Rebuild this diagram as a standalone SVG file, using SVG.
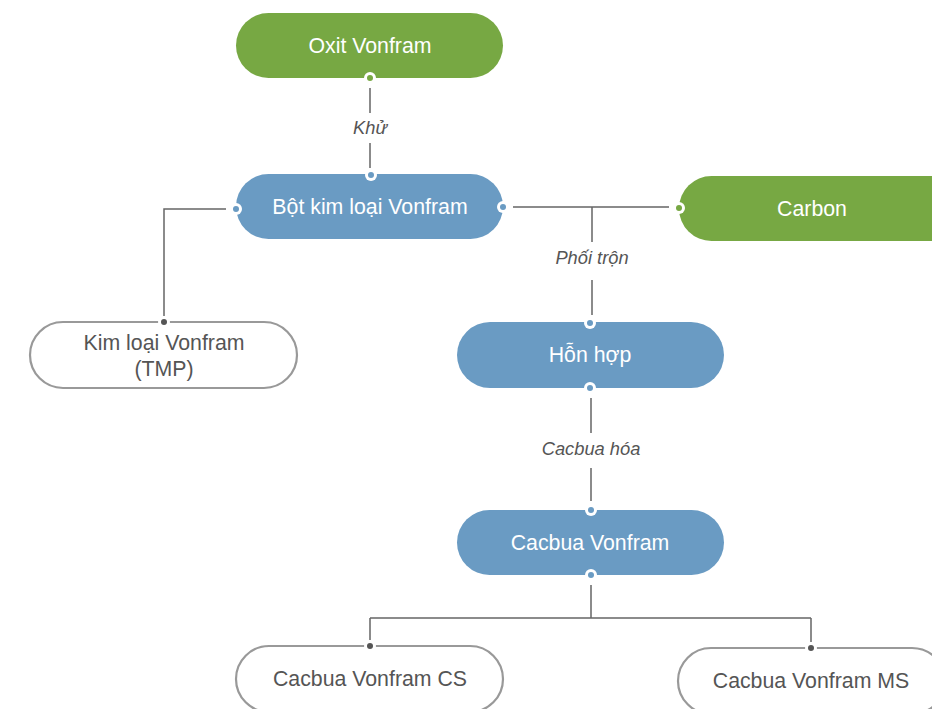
<svg xmlns="http://www.w3.org/2000/svg" width="932" height="709" viewBox="0 0 932 709">
<style>
.g{fill:#77a843}
.b{fill:#6a9bc3}
.w{fill:#fff;stroke:#999;stroke-width:2.2}
.t{font-family:"Liberation Sans",Arial,sans-serif;font-size:21.3px;text-anchor:middle;fill:#fff}
.td{font-family:"Liberation Sans",Arial,sans-serif;font-size:21.3px;text-anchor:middle;fill:#555}
.lb{font-family:"Liberation Sans",Arial,sans-serif;font-size:18.3px;font-style:italic;text-anchor:middle;fill:#555}
.c{fill:none;stroke:#666;stroke-width:1.5}
.pr{fill:#fff}
.dd{fill:#555}
</style>
<rect width="932" height="709" fill="#fff"/>
<g id="connectors">
<path class="c" d="M370 88V113M370 143V168"/>
<path class="c" d="M513 207H669M592 207V242M592 280V315"/>
<path class="c" d="M226 209H164V316"/>
<path class="c" d="M591 398V433M591 468V501"/>
<path class="c" d="M591 585V618M370 618H811M370 618V640M811 618V642"/>
<text class="lb" x="370" y="134">Khử</text>
<text class="lb" x="592" y="264">Phối trộn</text>
<text class="lb" x="591" y="455">Cacbua hóa</text>
</g>
<g id="oxit">
<rect class="g" x="236" y="13" width="267" height="65" rx="32.5"/>
<text class="t" x="370" y="53">Oxit Vonfram</text>
<circle class="pr" cx="370" cy="78" r="6"/><circle class="g" cx="370" cy="78" r="3"/>
</g>
<g id="bot">
<rect class="b" x="236" y="174" width="267" height="65" rx="32.5"/>
<text class="t" x="370" y="214">Bột kim loại Vonfram</text>
<circle class="pr" cx="371" cy="175" r="6"/><circle class="b" cx="371" cy="175" r="3"/>
<circle class="pr" cx="236" cy="209" r="6"/><circle class="b" cx="236" cy="209" r="3"/>
<circle class="pr" cx="503" cy="207" r="6"/><circle class="b" cx="503" cy="207" r="3"/>
</g>
<g id="carbon">
<rect class="g" x="679" y="176" width="290" height="65" rx="32.5"/>
<text class="t" x="812" y="216">Carbon</text>
<circle class="pr" cx="679" cy="208" r="6"/><circle class="g" cx="679" cy="208" r="3"/>
</g>
<g id="kimloai">
<rect class="w" x="30" y="322" width="267" height="66" rx="33"/>
<text class="td" x="164" y="350">Kim loại Vonfram</text>
<text class="td" x="164" y="376">(TMP)</text>
<circle class="pr" cx="164" cy="322" r="6"/><circle class="dd" cx="164" cy="322" r="3"/>
</g>
<g id="honhop">
<rect class="b" x="457" y="322" width="267" height="66" rx="33"/>
<text class="t" x="590" y="362">Hỗn hợp</text>
<circle class="pr" cx="590" cy="323" r="6"/><circle class="b" cx="590" cy="323" r="3"/>
<circle class="pr" cx="590" cy="388" r="6"/><circle class="b" cx="590" cy="388" r="3"/>
</g>
<g id="cacbua">
<rect class="b" x="457" y="510" width="267" height="65" rx="32.5"/>
<text class="t" x="590" y="550">Cacbua Vonfram</text>
<circle class="pr" cx="591" cy="510" r="6"/><circle class="b" cx="591" cy="510" r="3"/>
<circle class="pr" cx="591" cy="575" r="6"/><circle class="b" cx="591" cy="575" r="3"/>
</g>
<g id="cs">
<rect class="w" x="236" y="646" width="267" height="66" rx="33"/>
<text class="td" x="370" y="686">Cacbua Vonfram CS</text>
<circle class="pr" cx="370" cy="646" r="6"/><circle class="dd" cx="370" cy="646" r="3"/>
</g>
<g id="ms">
<rect class="w" x="678" y="648" width="267" height="66" rx="33"/>
<text class="td" x="811" y="688">Cacbua Vonfram MS</text>
<circle class="pr" cx="811" cy="648" r="6"/><circle class="dd" cx="811" cy="648" r="3"/>
</g>
</svg>
